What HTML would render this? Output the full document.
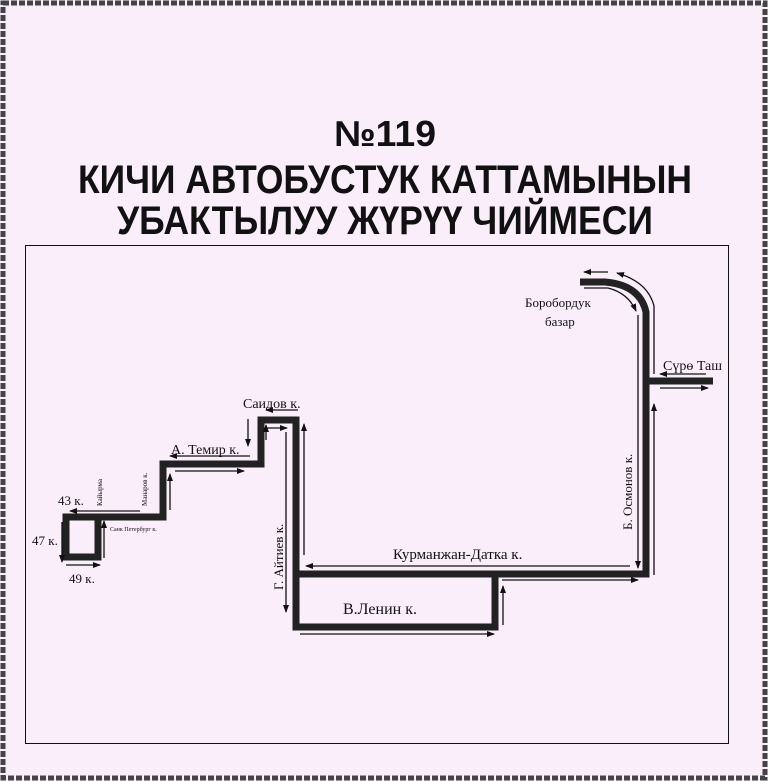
<!DOCTYPE html>
<html><head><meta charset="utf-8"><style>
html,body{margin:0;padding:0;background:#fbeefb;}
svg{display:block}
</style></head><body>
<svg width="768" height="781" viewBox="0 0 768 781" xmlns="http://www.w3.org/2000/svg">
<defs>
<marker id="a" markerWidth="8" markerHeight="6" refX="7" refY="3" orient="auto" markerUnits="userSpaceOnUse"><path d="M0,0 L8,3 L0,6 Z" fill="#111"/></marker>
</defs>
<rect x="0" y="0" width="768" height="781" fill="#fbeefb"/>
<rect x="3" y="3" width="762" height="775" fill="none" stroke="#444" stroke-width="5" stroke-dasharray="6,2"/>
<rect x="25.5" y="245.5" width="703" height="498" fill="none" stroke="#111" stroke-width="1"/>
<g font-family="Liberation Sans, sans-serif" font-weight="bold" fill="#111" text-anchor="middle">
<text x="385" y="146" font-size="36" textLength="102" lengthAdjust="spacingAndGlyphs">№119</text>
<text x="385" y="193" font-size="40" textLength="614" lengthAdjust="spacingAndGlyphs">КИЧИ АВТОБУСТУК КАТТАМЫНЫН</text>
<text x="385" y="234" font-size="40" textLength="536" lengthAdjust="spacingAndGlyphs">УБАКТЫЛУУ ЖҮРҮҮ ЧИЙМЕСИ</text>
</g>
<g fill="none" stroke="#222" stroke-width="7" stroke-linejoin="miter">
<rect x="66" y="517" width="32" height="40"/>
<path d="M98,517 H163 V464 H261 V420 H296 V627 H495 V574"/>
<path d="M296,574 H646 V312 Q640,285 605,282 H580"/>
<path d="M646,381 H713"/>
</g>
<g fill="none" stroke="#111" stroke-width="1.3" marker-end="url(#a)">
<path d="M62,522 V562"/>
<path d="M66,565 H100"/>
<path d="M104,558 V521"/>
<path d="M140,511 H70"/>
<path d="M170,510 V474"/>
<path d="M250,456 H170"/>
<path d="M175,471 H244"/>
<path d="M248,419 V446"/>
<path d="M266,440 V425"/>
<path d="M298,410 H266"/>
<path d="M267,428 H287"/>
<path d="M286,432 V612"/>
<path d="M304,555 V424"/>
<path d="M630,566 H306"/>
<path d="M300,634 H494"/>
<path d="M503,625 V586"/>
<path d="M502,580 H638"/>
<path d="M638,315 V568"/>
<path d="M654,575 V404"/>
<path d="M654,374 V306 Q648,282 617,273"/>
<path d="M608,272 H584"/>
<path d="M584,288 H608 Q628,293 636,311"/>
<path d="M706,374 H660"/>
<path d="M660,388 H708"/>
</g>
<g font-family="Liberation Serif, serif" fill="#111">
<text x="243" y="408" font-size="14">Саидов к.</text>
<text x="171" y="454" font-size="14">А. Темир к.</text>
<text x="58" y="505" font-size="13">43 к.</text>
<text x="32" y="545" font-size="13">47 к.</text>
<text x="69" y="583" font-size="13">49 к.</text>
<text x="110" y="531" font-size="6">Санк Петербург к.</text>
<text transform="translate(102,506) rotate(-90)" font-size="7">Кайырма</text>
<text transform="translate(147,506) rotate(-90)" font-size="7">Манаров к.</text>
<text transform="translate(283,590) rotate(-90)" font-size="13">Г. Айтиев к.</text>
<text x="393" y="559" font-size="15">Курманжан-Датка к.</text>
<text x="343" y="614" font-size="16">В.Ленин к.</text>
<text transform="translate(632,530) rotate(-90)" font-size="13">Б. Осмонов к.</text>
<text x="525" y="307" font-size="13">Боробордук</text>
<text x="545" y="326" font-size="13">базар</text>
<text x="663" y="370" font-size="14">Сүрө Таш</text>
</g>
</svg>
</body></html>
